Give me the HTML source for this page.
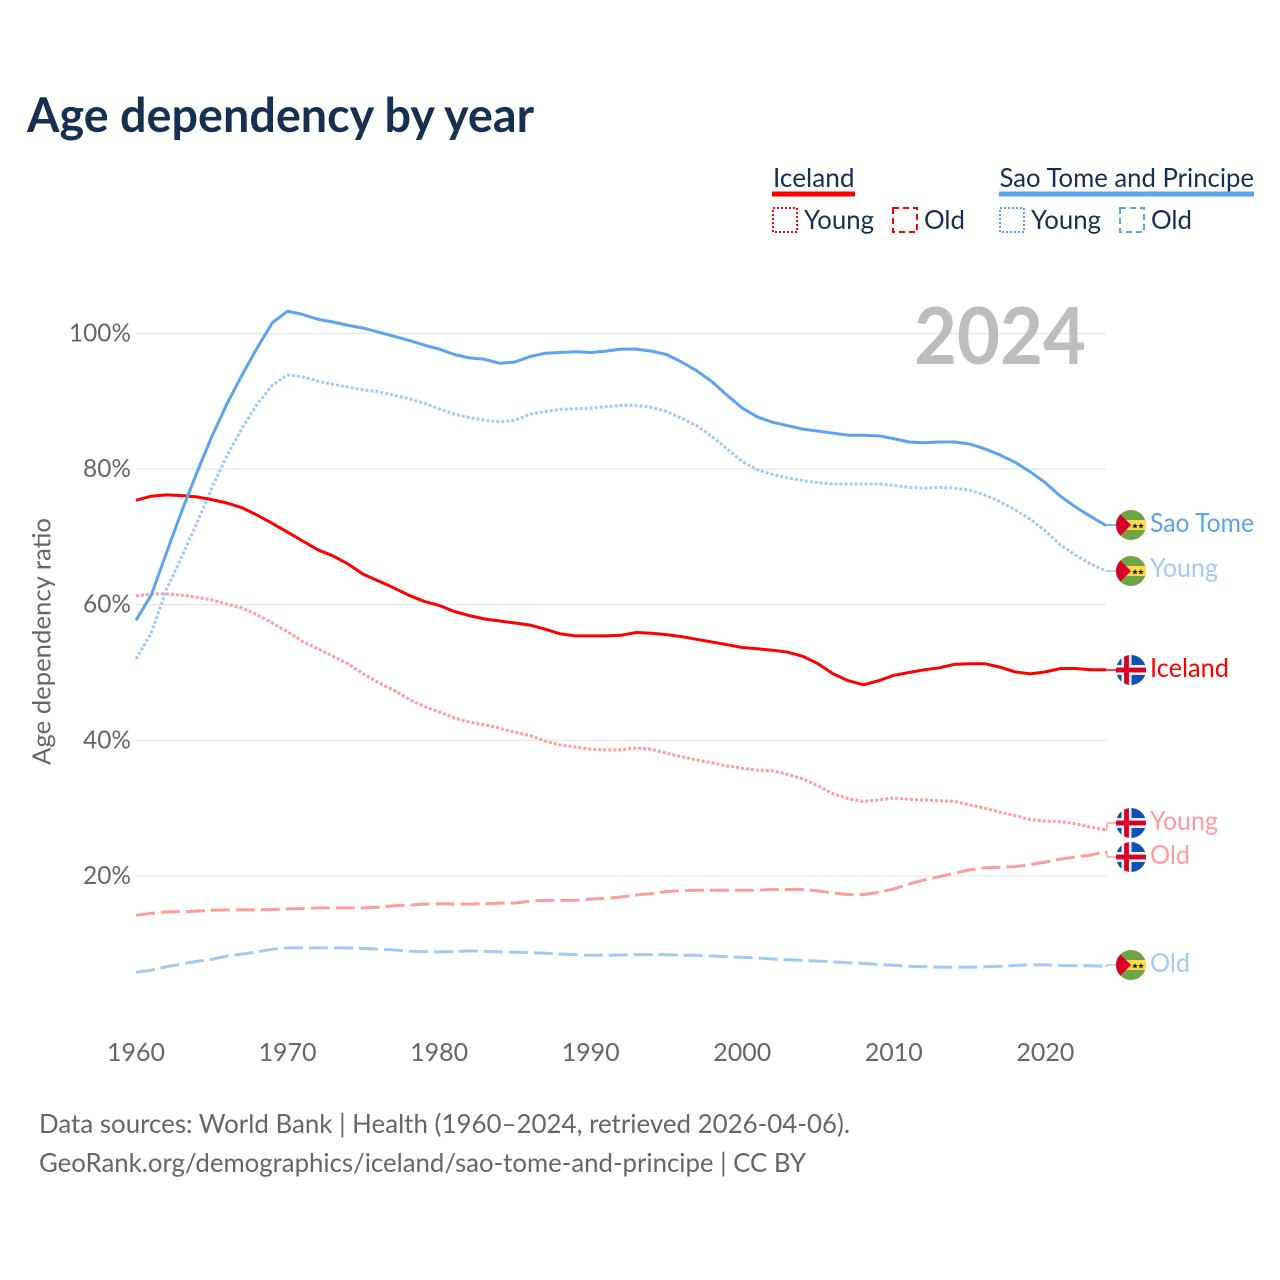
<!DOCTYPE html>
<html lang="en">
<head>
<meta charset="utf-8">
<title>Age dependency by year</title>
<style>
html,body{margin:0;padding:0;background:#fff;width:1280px;height:1280px;overflow:hidden}
svg{display:block}
text{font-family:"Lato","Carlito","Liberation Sans",sans-serif}
</style>
</head>
<body>
<svg id="chart" xmlns="http://www.w3.org/2000/svg" width="1280" height="1280" viewBox="0 0 1280 1280">
  <defs>
    <clipPath id="flag-clip"><circle cx="0" cy="0" r="15"/></clipPath>
    <g id="flag-is" clip-path="url(#flag-clip)">
      <rect x="-15" y="-15" width="30" height="30" fill="#0f52b5"/>
      <rect x="-15" y="-5" width="30" height="10" fill="#f0f0f0"/>
      <rect x="-9.5" y="-15" width="10" height="30" fill="#f0f0f0"/>
      <rect x="-15" y="-2.4" width="30" height="4.8" fill="#d80027"/>
      <rect x="-6.9" y="-15" width="4.8" height="30" fill="#d80027"/>
    </g>
    <g id="flag-st" clip-path="url(#flag-clip)">
      <rect x="-15" y="-15" width="30" height="30" fill="#6da544"/>
      <rect x="-15" y="-5" width="30" height="10" fill="#ffda44"/>
      <path d="M-15,-15 L0,0 L-15,15 Z" fill="#d80027"/>
      <path d="M4,-2 L4.8,0 L7,0.1 L5.3,1.4 L5.9,3.5 L4,2.3 L2.1,3.5 L2.7,1.4 L1,0.1 L3.2,0 Z" fill="#1c1c1c"/>
      <path d="M10,-2 L10.8,0 L13,0.1 L11.3,1.4 L11.9,3.5 L10,2.3 L8.1,3.5 L8.7,1.4 L7,0.1 L9.2,0 Z" fill="#1c1c1c"/>
    </g>
  </defs>

  <text x="27" y="132" font-size="48" font-weight="700" fill="#17304f" textLength="507" lengthAdjust="spacingAndGlyphs">Age dependency by year</text>

  <g font-size="26.5" fill="#17304f">
    <text x="773" y="187" textLength="81.5" lengthAdjust="spacingAndGlyphs">Iceland</text>
    <rect x="772" y="191.5" width="83" height="5" fill="#ff0000"/>
    <rect x="773" y="208" width="24" height="24" fill="none" stroke="#ff0000" stroke-width="2" stroke-dasharray="2 2"/>
    <text x="804" y="229" textLength="70" lengthAdjust="spacingAndGlyphs">Young</text>
    <rect x="893" y="208" width="24" height="24" fill="none" stroke="#ff0000" stroke-width="2" stroke-dasharray="6 4"/>
    <text x="924" y="229" textLength="41" lengthAdjust="spacingAndGlyphs">Old</text>

    <text x="999.5" y="187" textLength="254.5" lengthAdjust="spacingAndGlyphs">Sao Tome and Principe</text>
    <rect x="999" y="191.5" width="255" height="5" fill="#5ca4ed"/>
    <rect x="1000" y="208" width="24" height="24" fill="none" stroke="#5ca4ed" stroke-width="2" stroke-dasharray="2 2"/>
    <text x="1031" y="229" textLength="70" lengthAdjust="spacingAndGlyphs">Young</text>
    <rect x="1120" y="208" width="24" height="24" fill="none" stroke="#5ca4ed" stroke-width="2" stroke-dasharray="6 4"/>
    <text x="1151" y="229" textLength="41" lengthAdjust="spacingAndGlyphs">Old</text>
  </g>

  <g id="grid"></g>
  <g id="yticks" font-size="25.5" fill="#666"></g>
  <g id="xticks" font-size="25.5" fill="#666"></g>

  <text x="914" y="364" font-size="79" font-weight="700" fill="#bdbdbd" textLength="172" lengthAdjust="spacingAndGlyphs">2024</text>

  <text transform="translate(50.5,765) rotate(-90)" font-size="25.5" fill="#666" textLength="247" lengthAdjust="spacingAndGlyphs">Age dependency ratio</text>

  <g id="series" fill="none" stroke-width="3" stroke-linejoin="round"></g>
  <g id="ends" font-size="26.5"></g>

  <g font-size="26.5" fill="#666">
    <text x="39" y="1133" textLength="811" lengthAdjust="spacingAndGlyphs">Data sources: World Bank | Health (1960–2024, retrieved 2026-04-06).</text>
    <text x="39" y="1172" textLength="767" lengthAdjust="spacingAndGlyphs">GeoRank.org/demographics/iceland/sao-tome-and-principe | CC BY</text>
  </g>
</svg>
<script>
const firstYear = 1960;
const xTickYears = [1960, 1970, 1980, 1990, 2000, 2010, 2020];
const yTickValues = [20, 40, 60, 80, 100];
const stpTotal = [57.7,61.4,67.6,73.7,79.4,84.8,89.6,93.9,97.9,101.6,103.3,102.8,102.1,101.7,101.2,100.8,100.2,99.6,99.0,98.3,97.7,96.9,96.4,96.2,95.6,95.8,96.6,97.1,97.2,97.3,97.2,97.4,97.7,97.7,97.4,96.9,95.8,94.5,92.9,90.9,89.0,87.7,86.9,86.4,85.9,85.6,85.3,85.0,85.0,84.9,84.5,84.0,83.9,84.0,84.0,83.7,83.0,82.1,81.0,79.6,78.0,76.0,74.4,73.0,71.7];
const stpYoung = [52.0,55.8,62.2,67.0,72.0,77.2,82.0,86.0,89.6,92.4,93.9,93.6,93.0,92.5,92.1,91.7,91.4,90.9,90.4,89.7,88.9,88.1,87.6,87.2,87.0,87.2,88.1,88.5,88.8,88.9,89.0,89.2,89.4,89.4,89.1,88.5,87.5,86.4,84.8,83.0,81.1,79.9,79.2,78.7,78.3,78.0,77.8,77.8,77.8,77.8,77.6,77.3,77.2,77.3,77.2,76.9,76.2,75.2,74.0,72.6,70.9,68.8,67.3,66.0,65.0];
const stpOld = [5.8,6.1,6.6,7.0,7.4,7.7,8.2,8.5,8.8,9.2,9.4,9.4,9.4,9.4,9.4,9.3,9.2,9.1,8.9,8.85,8.8,8.85,8.95,8.9,8.8,8.75,8.7,8.6,8.5,8.4,8.3,8.3,8.35,8.4,8.4,8.4,8.3,8.3,8.2,8.1,8.0,7.9,7.75,7.65,7.55,7.45,7.35,7.2,7.1,6.95,6.85,6.7,6.6,6.55,6.55,6.55,6.6,6.7,6.8,6.9,6.9,6.8,6.75,6.75,6.7];
const islTotal = [75.4,76.0,76.2,76.1,75.9,75.5,75.0,74.3,73.2,72.0,70.7,69.4,68.1,67.2,66.0,64.5,63.5,62.5,61.4,60.5,59.9,59.0,58.4,57.9,57.6,57.3,57.0,56.4,55.7,55.4,55.4,55.4,55.5,55.9,55.8,55.6,55.3,54.9,54.5,54.1,53.7,53.5,53.3,53.0,52.4,51.3,49.8,48.8,48.2,48.8,49.6,50.0,50.4,50.7,51.2,51.3,51.3,50.8,50.1,49.8,50.1,50.6,50.6,50.4,50.4];
const islYoung = [61.3,61.6,61.6,61.4,61.1,60.7,60.1,59.5,58.5,57.3,56.0,54.6,53.5,52.4,51.3,49.8,48.5,47.4,46.1,45.0,44.2,43.3,42.7,42.3,41.8,41.2,40.7,39.9,39.3,39.0,38.7,38.6,38.6,38.9,38.7,38.1,37.6,37.1,36.7,36.2,35.9,35.6,35.5,35.0,34.3,33.3,32.1,31.4,31.0,31.2,31.5,31.3,31.2,31.1,31.0,30.5,30.0,29.4,28.9,28.3,28.1,28.0,27.7,27.2,26.8];
const islOld = [14.2,14.5,14.7,14.75,14.8,14.95,15.0,15.0,15.0,15.05,15.15,15.2,15.3,15.3,15.3,15.3,15.4,15.6,15.7,15.85,15.9,15.85,15.85,15.9,16.0,16.0,16.3,16.4,16.4,16.4,16.6,16.7,16.9,17.2,17.4,17.7,17.85,17.9,17.9,17.9,17.9,17.9,18.0,18.0,18.0,17.8,17.5,17.25,17.25,17.6,18.1,18.8,19.4,19.9,20.4,20.9,21.2,21.3,21.35,21.7,22.05,22.5,22.8,23.1,23.6];

const NS = 'http://www.w3.org/2000/svg';
function xScale(year) { return 136 + (year - 1960) * (1106 - 136) / 64; }
function yScale(v) { return 333.5 + (100 - v) * 6.781; }
function make(tag, attrs, parent) {
  const el = document.createElementNS(NS, tag);
  for (const k in attrs) el.setAttribute(k, attrs[k]);
  parent.appendChild(el);
  return el;
}
const gridG = document.getElementById('grid');
const yG = document.getElementById('yticks');
const xG = document.getElementById('xticks');
const seriesG = document.getElementById('series');
const endsG = document.getElementById('ends');

yTickValues.forEach(function (v) {
  const line = make('line', {x1: 136, x2: 1106, y1: yScale(v), y2: yScale(v), stroke: '#e9e9e9', 'stroke-width': 1.4}, gridG);
  
  
  const label = make('text', {x: 131, y: yScale(v) + 8, 'text-anchor': 'end', textLength: v === 100 ? 62 : 48, lengthAdjust: 'spacingAndGlyphs'}, yG);
  
  
  label.textContent = v + '%';
});
xTickYears.forEach(function (year) {
  const label = make('text', {x: xScale(year), y: 1061, 'text-anchor': 'middle', textLength: 58, lengthAdjust: 'spacingAndGlyphs'}, xG);
  
  
  label.textContent = String(year);
});

function drawSeries(values, color, dash, seriesName, flagId, flagY, labelText, labelBase, labelWidth) {
  const pts = values.map(function (v, i) { return xScale(firstYear + i).toFixed(1) + ',' + yScale(v).toFixed(1); }).join(' ');
  const line = make('polyline', {points: pts, stroke: color}, seriesG);
  if (dash) line.setAttribute('stroke-dasharray', dash);
  
  
  const lastY = yScale(values[values.length - 1]);
  const conn = make('polyline', {points: '1105,' + lastY.toFixed(1) + ' 1106.5,' + lastY.toFixed(1) + ' 1107.5,' + flagY + ' 1116,' + flagY, fill: 'none', stroke: color, 'stroke-width': 1.4}, endsG);
  
  
  const flag = make('use', {href: '#' + flagId, transform: 'translate(1131,' + flagY + ')'}, endsG);
  
  
  const label = make('text', {x: 1150, y: labelBase, fill: color, textLength: labelWidth, lengthAdjust: 'spacingAndGlyphs'}, endsG);
  
  
  label.textContent = labelText;
}
drawSeries(stpOld, '#a3caf3', '19 6', 'sao-tome-old-line', 'flag-st', 965, 'Old', 972, 40);
drawSeries(islOld, '#ff9c9c', '19 6', 'iceland-old-line', 'flag-is', 857, 'Old', 864, 40);
drawSeries(islYoung, '#ff9c9c', '3 2', 'iceland-young-line', 'flag-is', 823, 'Young', 830, 68);
drawSeries(stpYoung, '#a3caf3', '3 2', 'sao-tome-young-line', 'flag-st', 571, 'Young', 577, 68);
drawSeries(islTotal, '#ff0000', null, 'iceland-total-line', 'flag-is', 670, 'Iceland', 677, 79);
drawSeries(stpTotal, '#5ca4ed', null, 'sao-tome-total-line', 'flag-st', 525, 'Sao Tome', 532, 104);
</script>
</body>
</html>
